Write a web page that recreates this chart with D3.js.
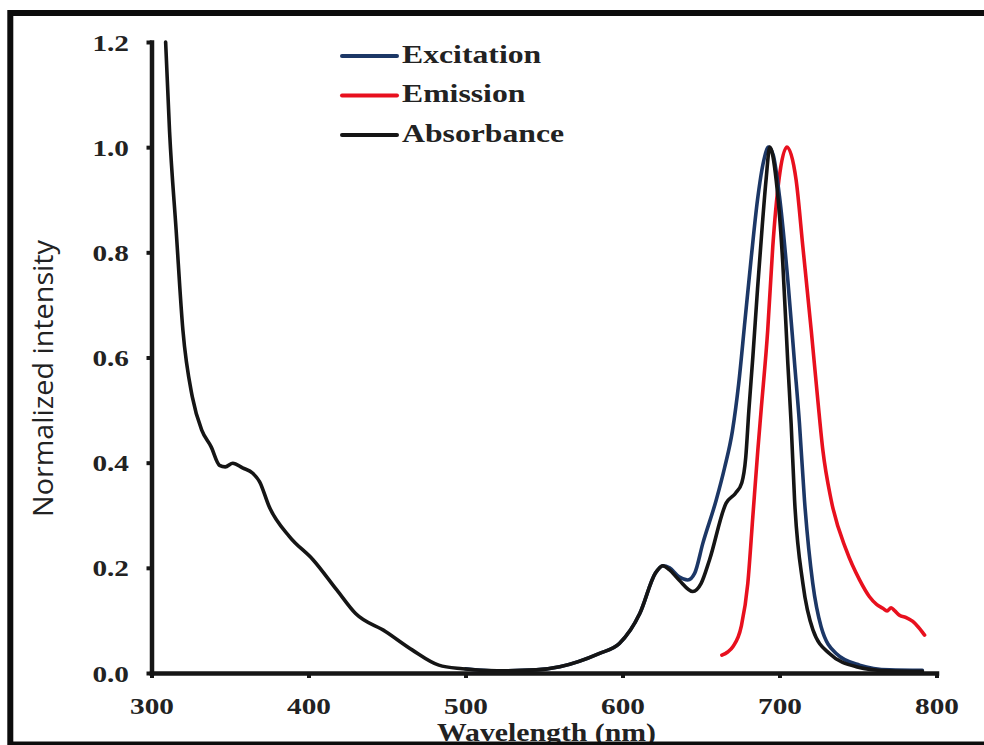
<!DOCTYPE html>
<html>
<head>
<meta charset="utf-8">
<script src="https://cdn.jsdelivr.net/npm/d3@7"></script>
<style>
  html, body { margin: 0; padding: 0; background: #fff; }
  svg { display: block; }
</style>
</head>
<body>
<svg id="chart" width="984" height="745"></svg>
<script>
// ---------------- data ----------------
const xTicks = [300, 400, 500, 600, 700, 800];
const yTicks = [0, 0.2, 0.4, 0.6, 0.8, 1.0, 1.2];
const seriesNames = ["Excitation", "Emission", "Absorbance"];
const xLabel = "Wavelength (nm)";
const yLabel = "Normalized intensity";

const absorbance = [
  [309,1.2],[311.5,1.03],[315.7,0.842],[320,0.652],[326,0.525],[332,0.462],[338,0.43],
  [343.3,0.395],[347,0.392],[351.8,0.399],[358,0.39],[364.5,0.38],[368.8,0.364],[375,0.316],
  [388,0.259],[403,0.215],[418,0.158],[430,0.113],[449,0.079],[466,0.044],[483,0.015],
  [498,0.008],[520,0.004],[545,0.006],[560,0.012],[585,0.037],[598,0.056],[611,0.113],
  [621,0.19],[625.7,0.204],[630,0.196],[636,0.177],[644.8,0.155],[650,0.17],[655.4,0.215],
  [666,0.323],[672,0.342],[676,0.362],[678.5,0.41],[680.5,0.5],[683,0.6],[686,0.73],
  [689,0.85],[691.5,0.94],[693.8,1.0],[697.9,0.937],[702.1,0.779],[705.3,0.589],[707.4,0.475],
  [709.6,0.329],[714.9,0.17],[721.3,0.082],[731.8,0.037],[748.8,0.012],[770,0.004],[791,0.003]
];
const excitation = [
  [500,0.008],[520,0.004],[545,0.006],[560,0.012],[585,0.037],[598,0.056],[611,0.113],
  [621,0.19],[625.7,0.204],[630,0.2],[636,0.183],[641.6,0.177],[646,0.19],[651.2,0.247],
  [659.7,0.329],[665,0.39],[670,0.46],[674,0.55],[678,0.67],[682,0.79],[686,0.9],
  [690,0.975],[693,1.0],[696,0.985],[700,0.906],[705.3,0.747],[709.6,0.589],[712.7,0.475],
  [715.9,0.329],[721.2,0.17],[726.5,0.088],[736.1,0.037],[751,0.015],[770,0.006],[791,0.005]
];
const emission = [
  [663.3,0.034],[667,0.04],[670.3,0.05],[675.6,0.088],[679.8,0.17],[683,0.297],[686.2,0.424],
  [688.3,0.5],[692.5,0.652],[695.7,0.81],[699.6,0.937],[704.7,1.0],[710.6,0.937],[714.9,0.81],
  [720.2,0.652],[724.4,0.519],[727.6,0.424],[732.9,0.329],[742.5,0.234],[751,0.177],
  [757.3,0.145],[762,0.13],[765.8,0.123],[768.5,0.118],[771.1,0.124],[773.5,0.118],
  [776.4,0.11],[781,0.105],[784.9,0.098],[788.5,0.087],[792.4,0.072]
];
const seriesData = [excitation, emission, absorbance];
const seriesColors = ["#1c3766", "#e8101e", "#151515"];

// ---------------- layout ----------------
const svg = d3.select("#chart");
const x = d3.scaleLinear().domain([300, 800]).range([151.5, 936.5]);
const y = d3.scaleLinear().domain([0, 1.2]).range([673, 42]);
const serif = "'Liberation Serif','Times New Roman',serif";
const textColor = "#222";
const sx = 1.22;

// curves (absorbance drawn last so it sits on top, like the reference)
const line = d3.line().x(d => x(d[0])).y(d => y(d[1])).curve(d3.curveMonotoneX);
const drawOrder = [1, 0, 2];
drawOrder.forEach(i => {
  svg.append("path")
    .datum(seriesData[i])
    .attr("d", line)
    .attr("fill", "none")
    .attr("stroke", seriesColors[i])
    .attr("stroke-width", 3.6)
    .attr("stroke-linejoin", "round")
    .attr("stroke-linecap", "round");
});

// y axis
const yAxis = svg.append("g")
  .attr("transform", `translate(${x(300)},0)`)
  .call(d3.axisLeft(y).tickValues(yTicks).tickFormat(d3.format(".1f")).tickSize(5).tickSizeOuter(0));
// x axis
const xAxis = svg.append("g")
  .attr("transform", `translate(0,${y(0)})`)
  .call(d3.axisBottom(x).tickValues(xTicks).tickFormat(d3.format("d")).tickSize(5).tickSizeOuter(0));

[yAxis, xAxis].forEach(g => {
  g.select(".domain").attr("stroke", "#161616").attr("stroke-width", 4.5).attr("stroke-linecap", "square");
  g.selectAll(".tick line").attr("stroke", "#161616").attr("stroke-width", 4);
  g.selectAll(".tick text")
    .attr("fill", textColor)
    .style("font-family", serif)
    .style("font-weight", "bold")
    .style("font-size", "24px");
});
yAxis.selectAll(".tick text")
  .attr("x", -(x(300) - 129) / sx)
  .attr("dy", "0.34em")
  .attr("transform", `scale(${sx},1)`);
xAxis.selectAll(".tick text")
  .attr("y", 41)
  .attr("dy", 0)
  .attr("transform", `scale(${sx},1)`);

// axis titles
svg.append("text")
  .attr("x", 437).attr("y", 741)
  .attr("textLength", 219).attr("lengthAdjust", "spacingAndGlyphs")
  .attr("fill", textColor)
  .style("font-family", serif).style("font-weight", "bold").style("font-size", "26px")
  .text(xLabel);

svg.append("text")
  .attr("transform", "translate(53,378.5) rotate(-90)")
  .attr("text-anchor", "middle")
  .attr("textLength", 277).attr("lengthAdjust", "spacingAndGlyphs")
  .attr("fill", textColor)
  .style("font-family", "'Open Sans','Noto Sans',sans-serif").style("font-size", "27px")
  .style("font-weight", "500")
  .text(yLabel);

// legend
const legendRows = [56, 95.5, 135];
seriesNames.forEach((name, i) => {
  svg.append("line")
    .attr("x1", 342).attr("x2", 397)
    .attr("y1", legendRows[i]).attr("y2", legendRows[i])
    .attr("stroke", seriesColors[i]).attr("stroke-width", 4).attr("stroke-linecap", "round");
  svg.append("text")
    .attr("transform", `translate(402,${legendRows[i] + 6.5}) scale(${sx},1)`)
    .attr("fill", textColor)
    .style("font-family", serif).style("font-weight", "bold").style("font-size", "26px")
    .text(name);
});

// outer frame
svg.append("rect")
  .attr("x", 10.3).attr("y", 13).attr("width", 1000).attr("height", 731.5)
  .attr("fill", "none").attr("stroke", "#0c0c0c").attr("stroke-width", 6);
</script>
</body>
</html>
